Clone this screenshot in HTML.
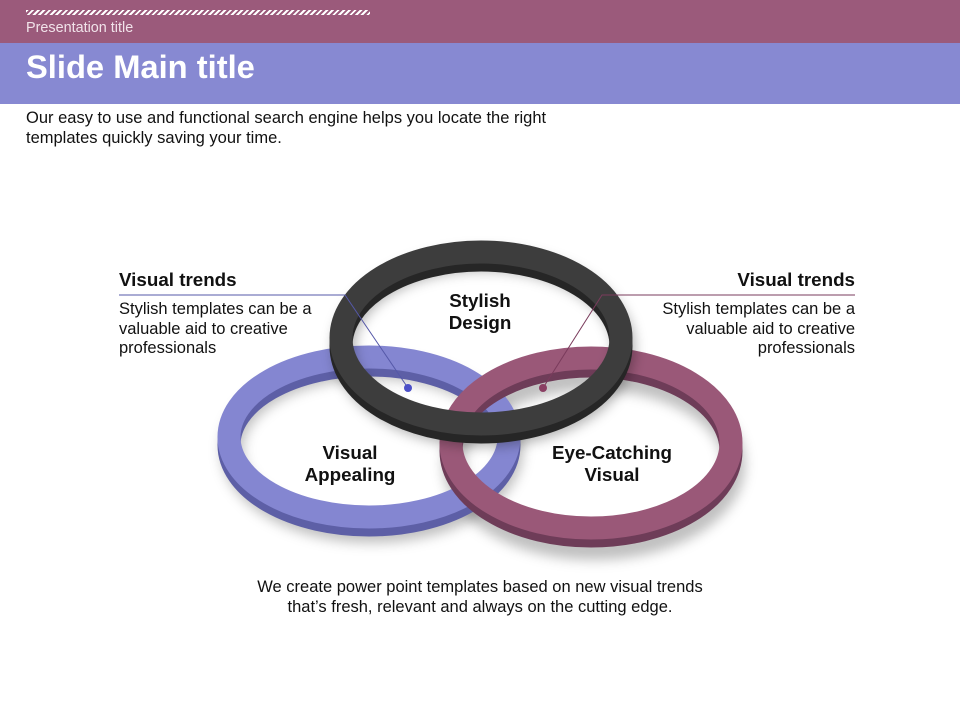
<!DOCTYPE html>
<html><head><meta charset="utf-8"><style>
body{margin:0;width:960px;height:720px;overflow:hidden;background:#fff;font-family:"Liberation Sans",sans-serif;position:relative}
.top{position:absolute;left:0;top:0;width:960px;height:43px;background:#9b5a7b}
.stripe{position:absolute;left:26px;top:10px;width:344px;height:5px;background:repeating-linear-gradient(135deg,#fff 0 2px,transparent 2px 4px)}
.pt{position:absolute;left:26px;top:20px;color:#f1e3ea;font-size:14.4px}
.band{position:absolute;left:0;top:43px;width:960px;height:61px;background:#8789d2}
.mt{position:absolute;left:26px;top:48px;color:#fff;font-size:32.7px;font-weight:bold}
.t{position:absolute;color:#111;font-size:16.5px;line-height:19.5px}
.h{position:absolute;font-weight:bold;font-size:18.8px;color:#111}
</style></head><body>
<div class="top"></div><div class="stripe"></div><div class="pt">Presentation title</div>
<div class="band"></div><div class="mt">Slide Main title</div>
<div class="t" style="left:26px;top:109px">Our easy to use and functional search engine helps you locate the right<br>templates quickly saving your time.</div>
<svg width="960" height="720" style="position:absolute;left:0;top:0">
<defs><filter id="sh" x="-20%" y="-20%" width="140%" height="150%"><feGaussianBlur stdDeviation="6"/></filter></defs>
<g fill="none">
<ellipse cx="372" cy="450" rx="140" ry="82" stroke="#000" stroke-opacity=".25" stroke-width="22" filter="url(#sh)"/>
<ellipse cx="594" cy="464" rx="140" ry="85" stroke="#000" stroke-opacity=".25" stroke-width="22" filter="url(#sh)"/>
<ellipse cx="369" cy="445" rx="140" ry="80" stroke="#5d5fa6" stroke-width="23"/>
<ellipse cx="369" cy="437" rx="140" ry="80" stroke="#8486d1" stroke-width="23"/>
<ellipse cx="591" cy="451" rx="140" ry="85" stroke="#6e3c58" stroke-width="23"/>
<ellipse cx="591" cy="443" rx="140" ry="85" stroke="#9a5878" stroke-width="23"/>
<ellipse cx="484" cy="348" rx="140" ry="88" stroke="#000" stroke-opacity=".3" stroke-width="22" filter="url(#sh)"/>
<ellipse cx="481" cy="346" rx="140" ry="86" stroke="#262626" stroke-width="23"/>
<ellipse cx="481" cy="338" rx="140" ry="86" stroke="#3d3d3d" stroke-width="23"/>
</g>
<polyline points="119,295 345,295 408,388" fill="none" stroke="#5558a8" stroke-width="1"/>
<circle cx="408" cy="388" r="4" fill="#4c50c8"/>
<polyline points="855,295 602,295 543,388" fill="none" stroke="#7a3b5c" stroke-width="1"/>
<circle cx="543" cy="388" r="4" fill="#8a3f63"/>
</svg>
<div class="h" style="left:119px;top:269px">Visual trends</div>
<div class="t" style="left:119px;top:300px">Stylish templates can be a<br>valuable aid to creative<br>professionals</div>
<div class="h" style="right:105px;top:269px">Visual trends</div>
<div class="t" style="right:105px;top:300px;text-align:right">Stylish templates can be a<br>valuable aid to creative<br>professionals</div>
<div class="h" style="left:380px;width:200px;text-align:center;top:290px;line-height:22px">Stylish<br>Design</div>
<div class="h" style="left:250px;width:200px;text-align:center;top:442px;line-height:22px">Visual<br>Appealing</div>
<div class="h" style="left:512px;width:200px;text-align:center;top:442px;line-height:22px">Eye-Catching<br>Visual</div>
<div class="t" style="left:130px;width:700px;text-align:center;top:578px">We create power point templates based on new visual trends<br>that’s fresh, relevant and always on the cutting edge.</div>
</body></html>
